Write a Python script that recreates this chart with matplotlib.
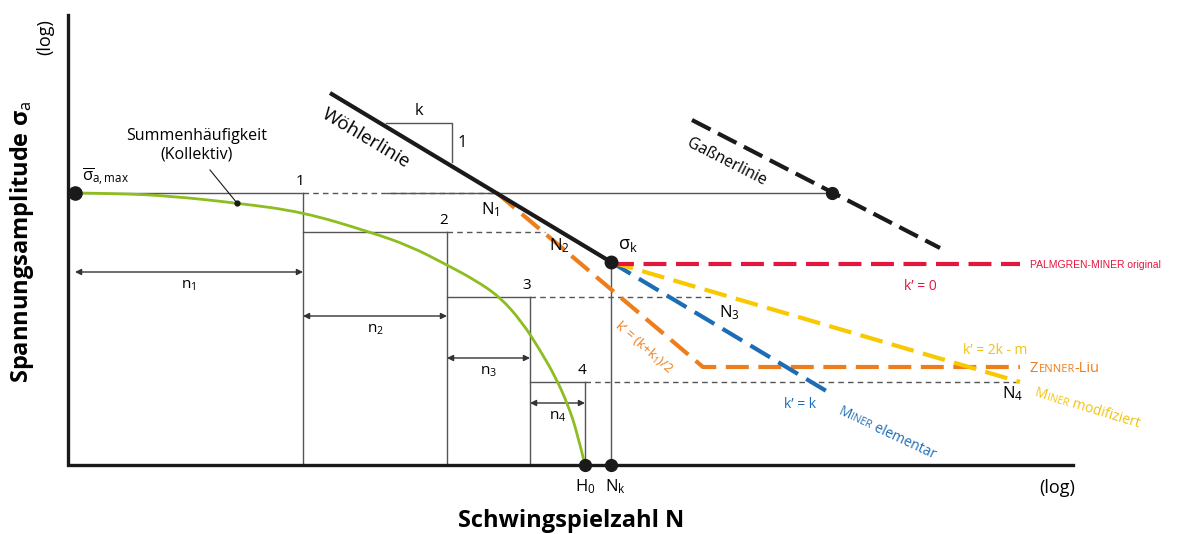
import numpy as np
import matplotlib.pyplot as plt
from matplotlib.path import Path
from matplotlib.patches import PathPatch

plt.rcParams['font.family'] = ['Open Sans', 'DejaVu Sans']
plt.rcParams['mathtext.fontset'] = 'custom'
plt.rcParams['mathtext.rm'] = 'Open Sans'
plt.rcParams['mathtext.it'] = 'Open Sans:italic'
plt.rcParams['mathtext.bf'] = 'Open Sans:bold'

# Skizze in Bildpunkten: x nach rechts, y nach unten
B, H = 1178, 534
achse_x0, achse_y0 = 68, 465
achse_oben, achse_rechts = 15, 1073

# Kollektiv (Summenhaeufigkeit)
koll_x = [75, 120, 170, 237, 303, 370, 410, 447, 475, 500, 522, 540, 556, 568, 577, 585]
koll_y = [193, 193.5, 196, 203, 212, 232, 246, 265, 280, 297, 322, 350, 378, 405, 432, 465]

# Stufen des Kollektivs
stufe_x = [303, 447, 530, 585]
stufe_y = [193, 232, 297, 382]
stufe_ende = [497, 545, 712, 1020]   # Ende der gestrichelten Verlaengerung
stufe_namen = ['1', '2', '3', '4']
n_links = [75, 303, 447, 530]
n_y = [272, 316, 358, 403]
n_namen = ['n$_\\mathrm{1}$', 'n$_\\mathrm{2}$', 'n$_\\mathrm{3}$', 'n$_\\mathrm{4}$']

# Woehlerlinie und Abknickpunkt
woehler_x = [330, 611]
woehler_y = [93, 262]
knick = (611, 262)
H0 = 585
gassner_x = [692, 940]
gassner_y = [120, 248]
gassner_punkt = (832, 193)

# Fortsetzungen unterhalb sigma_k
pm_x, pm_y = [611, 1020], [264, 264]
zl_x, zl_y = [497, 703, 1020], [193, 367, 367]
me_x, me_y = [611, 828], [262, 392]
mm_x, mm_y = [611, 1020], [262, 382]

rot = '#e3173e'
orange = '#ee7d1b'
blau = '#1c6db5'
gelb = '#f8c800'
gruen = '#8dbd1f'
grau = '#555555'

fig = plt.figure(figsize=(B / 100, H / 100), dpi=100)
ax = fig.add_axes([0, 0, 1, 1])
ax.set_xlim(0, B)
ax.set_ylim(H, 0)
ax.axis('off')

# Achsen
ax.plot([achse_x0, achse_x0, achse_rechts], [achse_oben, achse_y0, achse_y0],
        color='#1a1a1a', lw=2.4, solid_joinstyle='miter', zorder=5)

# Stufen, Hilfslinien und Pfeile
for i in range(4):
    x, y = stufe_x[i], stufe_y[i]
    links = 75 if i == 0 else stufe_x[i - 1]
    ax.plot([links, x], [y, y], color=grau, lw=1)
    ax.plot([x, x], [y, achse_y0], color=grau, lw=1)
    ax.plot([x, stufe_ende[i]], [y, y], color=grau, lw=1, ls=(0, (4, 3)))
    ax.text(x - 3, y - 4, stufe_namen[i], fontsize=11, ha='center', va='bottom')
    ax.annotate('', xy=(x, n_y[i]), xytext=(n_links[i], n_y[i]),
                arrowprops=dict(arrowstyle='<|-|>', color='#333333', lw=1,
                                mutation_scale=9, shrinkA=0, shrinkB=0))
    ax.text((x + n_links[i]) / 2, n_y[i] + 6, n_namen[i], fontsize=11,
            ha='center', va='top')

ax.plot([387, gassner_punkt[0]], [193, 193], color=grau, lw=1)
ax.plot([knick[0], knick[0]], [knick[1], achse_y0], color=grau, lw=1)

# Kollektiv als glatte Kurve (quadratische Bezier-Stuecke durch die Stuetzpunkte)
pts = list(zip(koll_x, koll_y))
verts = [pts[0]]
codes = [Path.MOVETO]
for i in range(1, len(pts) - 1):
    mitte = ((pts[i][0] + pts[i + 1][0]) / 2, (pts[i][1] + pts[i + 1][1]) / 2)
    if i == len(pts) - 2:
        mitte = pts[-1]
    verts += [pts[i], mitte]
    codes += [Path.CURVE3, Path.CURVE3]
ax.add_patch(PathPatch(Path(verts, codes), fill=False, edgecolor=gruen, lw=2, zorder=4))

ax.plot(237, 203, 'o', color='#1a1a1a', ms=3.5, zorder=6)
ax.plot([210, 237], [170, 203], color='#1a1a1a', lw=0.8)
ax.text(197, 145, 'Summenhäufigkeit\n(Kollektiv)', fontsize=11.5, ha='center',
        va='center', linespacing=1.2)
ax.plot(75, 193, 'o', color='#1a1a1a', ms=9.5, zorder=7)
ax.text(82, 188, r'$\overline{\mathrm{σ}}_\mathrm{a,max}$', fontsize=12,
        ha='left', va='bottom')

# farbige Fortsetzungen
strich = (0, (5.5, 2.3))
ax.plot(zl_x, zl_y, color=orange, lw=3, ls=strich, zorder=3)
ax.plot(me_x, me_y, color=blau, lw=3, ls=strich, zorder=3)
ax.plot(mm_x, mm_y, color=gelb, lw=3, ls=strich, zorder=3)
ax.plot(pm_x, pm_y, color=rot, lw=3, ls=strich, zorder=3)

# Woehler- und Gassnerlinie
ax.plot(woehler_x, woehler_y, color='#1a1a1a', lw=3, solid_capstyle='butt', zorder=6)
ax.plot(gassner_x, gassner_y, color='#1a1a1a', lw=3, ls=(0, (5, 2)), zorder=6)
ax.plot(*gassner_punkt, 'o', color='#1a1a1a', ms=8.5, zorder=7)
ax.plot(*knick, 'o', color='#1a1a1a', ms=9, zorder=7)
ax.plot([H0, knick[0]], [achse_y0, achse_y0], 'o', color='#1a1a1a', ms=8.5, zorder=7)

# Steigungsdreieck
ax.plot([386, 452, 452], [123, 123, 162], color=grau, lw=1)
ax.text(419, 119, 'k', fontsize=12, ha='center', va='bottom')
ax.text(458, 143, '1', fontsize=12, ha='left', va='center')

ax.text(366, 138, 'Wöhlerlinie', fontsize=13.5, rotation=-31, ha='center',
        va='center', rotation_mode='anchor')
ax.text(727, 162, 'Gaßnerlinie', fontsize=11.5, rotation=-27, ha='center',
        va='center', rotation_mode='anchor')

# Punktbezeichnungen
ax.text(490, 210, 'N$_\\mathrm{1}$', fontsize=12, ha='center', va='center')
ax.text(559, 246, 'N$_\\mathrm{2}$', fontsize=12, ha='center', va='center')
ax.text(729, 313, 'N$_\\mathrm{3}$', fontsize=12, ha='center', va='center')
ax.text(1013, 394, 'N$_\\mathrm{4}$', fontsize=12, ha='center', va='center')
ax.text(628, 245, 'σ$_\\mathrm{k}$', fontsize=13, ha='center', va='center')
ax.text(H0, 477, 'H$_\\mathrm{0}$', fontsize=12, ha='center', va='top')
ax.text(knick[0] + 4, 477, 'N$_\\mathrm{k}$', fontsize=12, ha='center', va='top')

# Beschriftung der Hypothesen
ax.text(1030, 265, 'PALMGREN-MINER original', fontsize=7.5, color=rot,
        family='Liberation Sans', va='center')
ax.text(920, 287, 'k’ = 0', fontsize=10, color=rot, ha='center', va='center')
ax.text(995, 350, 'k’ = 2k - m', fontsize=10, color='#f2c20f', ha='center', va='center')
ax.text(800, 404, 'k’ = k', fontsize=10, color=blau, ha='center', va='center')
ax.text(644, 348, 'k’ = (k+k$_\\mathrm{1}$)/2', fontsize=9.5, color=orange,
        rotation=-41, ha='center', va='center', rotation_mode='anchor')

renderer = fig.canvas.get_renderer()


def kapitaelchen(x, y, teile, winkel, farbe):
    # Textstuecke verschiedener Groesse hintereinander auf gedrehter Grundlinie
    a = np.radians(winkel)
    for s, gr in teile:
        ax.text(x, y, s, fontsize=gr, color=farbe, rotation=winkel,
                rotation_mode='anchor', ha='left', va='baseline')
        tmp = ax.text(0, 0, s, fontsize=gr)
        w = tmp.get_window_extent(renderer=renderer).width
        tmp.remove()
        x += w * np.cos(a)
        y -= w * np.sin(a)


kapitaelchen(1030, 372, [('Z', 10.5), ('ENNER', 8), ('-Liu', 10.5)], 0, orange)
kapitaelchen(1034, 396, [('M', 10), ('INER', 7.5), (' modifiziert', 10)], -17, '#f2c20f')
kapitaelchen(838, 414, [('M', 10), ('INER', 7.5), (' elementar', 10)], -25, blau)

# Achsenbeschriftungen
ax.text(22, 242, 'Spannungsamplitude σ$_\\mathrm{a}$', fontsize=17, fontweight='bold',
        rotation=90, ha='center', va='center')
ax.text(45, 37, '(log)', fontsize=13, rotation=90, ha='center', va='center')
ax.text(571, 521, 'Schwingspielzahl N', fontsize=17, fontweight='bold',
        ha='center', va='center')
ax.text(1057, 488, '(log)', fontsize=13, ha='center', va='center')

fig.savefig('out.png', dpi=100)
